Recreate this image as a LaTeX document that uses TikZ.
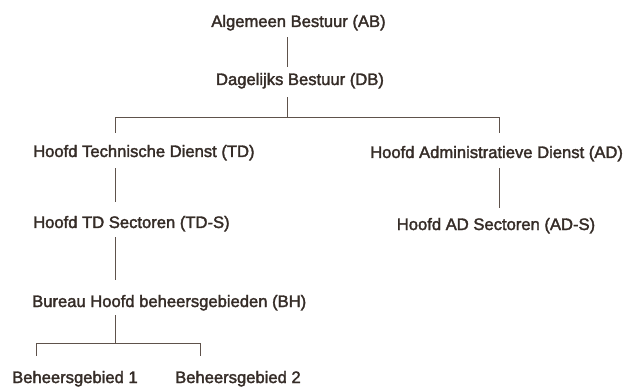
\documentclass[tikz,border=0pt]{standalone}
\usepackage{fontspec}
\setmainfont[FakeBold=2]{Liberation Sans}
\definecolor{inkText}{HTML}{352C27}
\definecolor{inkLine}{HTML}{5E524B}
\begin{document}
\begin{tikzpicture}[x=1pt,y=-1pt,
  unit/.style={inner sep=0pt, text height=12pt, text depth=3.5pt,
    text=inkText, font=\fontsize{16.6}{20}\selectfont},
  link/.style={draw=inkLine, line width=1pt}]
  \useasboundingbox (0,0) rectangle (623,387);
  \fill[white] (0,0) rectangle (623,387);

  % positions of the connector columns and the two horizontal bars
  \coordinate (spine) at (287,0);
  \coordinate (tdx) at (115,0);
  \coordinate (adx) at (499,0);
  \coordinate (bgax) at (36,0);
  \coordinate (bgbx) at (200,0);
  \coordinate (bus) at (0,118);
  \coordinate (bus2) at (0,343);

  % units
  \node[unit, anchor=base] (AB) at (298.5,27) {Algemeen Bestuur (AB)};
  \node[unit, anchor=base] (DB) at (300,85) {Dagelijks Bestuur (DB)};
  \node[unit, anchor=base west] (TD) at (33,157) {Hoofd Technische Dienst (TD)};
  \node[unit, anchor=base west] (AD) at (370,158) {Hoofd Administratieve Dienst (AD)};
  \node[unit, anchor=base west] (TDS) at (33,228) {Hoofd TD Sectoren (TD-S)};
  \node[unit, anchor=base] (ADS) at (496,230) {Hoofd AD Sectoren (AD-S)};
  \node[unit, anchor=base west] (BH) at (32,307) {Bureau Hoofd beheersgebieden (BH)};
  \node[unit, anchor=base west] (BG1) at (12,383) {Beheersgebied 1};
  \node[unit, anchor=base west] (BG2) at (175,383) {Beheersgebied 2};

  % connectors
  \draw[link, shorten <=6.5pt, shorten >=6pt] (AB.south -| spine) -- (DB.north -| spine);
  \draw[link, shorten <=8.5pt] (DB.south -| spine) -- (spine |- bus);
  \draw[link, shorten <=12pt, shorten >=13pt]
    (TD.north -| tdx) -- (tdx |- bus) -- (adx |- bus) -- (AD.north -| adx);
  \draw[link, shorten <=7.5pt, shorten >=14pt] (TD.south -| tdx) -- (TDS.north -| tdx);
  \draw[link, shorten <=6.5pt, shorten >=10pt] (AD.south -| adx) -- (ADS.north -| adx);
  \draw[link, shorten <=5.5pt, shorten >=15pt] (TDS.south -| tdx) -- (BH.north -| tdx);
  \draw[link, shorten <=4.5pt] (BH.south -| tdx) -- (tdx |- bus2);
  \draw[link, shorten <=15pt, shorten >=15pt]
    (BG1.north -| bgax) -- (bgax |- bus2) -- (bgbx |- bus2) -- (BG2.north -| bgbx);
\end{tikzpicture}
\end{document}
